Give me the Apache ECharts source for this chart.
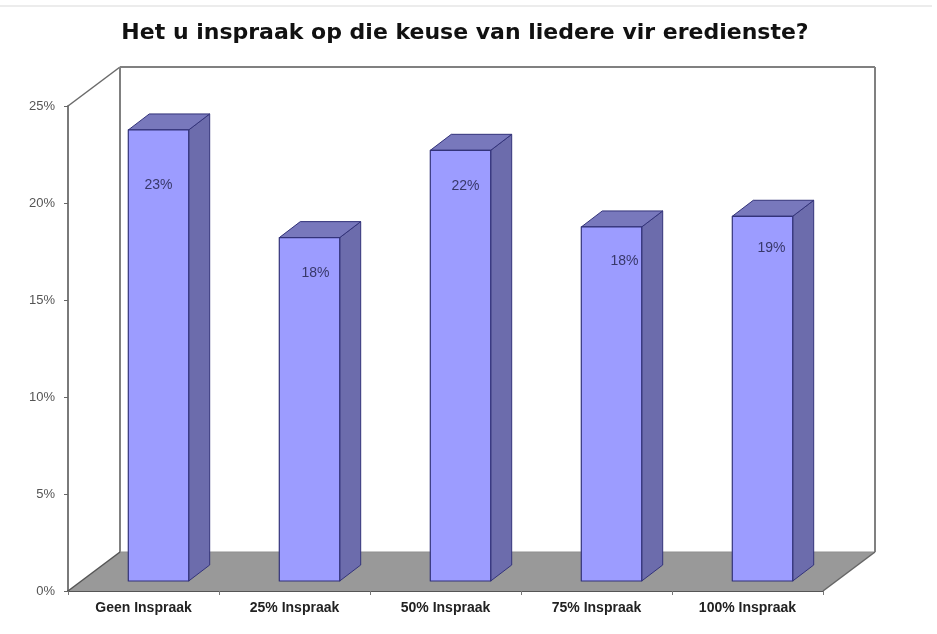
<!DOCTYPE html>
<html>
<head>
<meta charset="utf-8">
<style>html,body{margin:0;padding:0;background:#fff}#c{width:937px;height:634px}</style>
<script src="https://cdn.jsdelivr.net/npm/echarts@6/dist/echarts.min.js"></script>
</head>
<body>
<div id="c"></div>
<script>
const categories = ['Geen Inspraak', '25% Inspraak', '50% Inspraak', '75% Inspraak', '100% Inspraak'];
const values = [23.25, 17.7, 22.2, 18.25, 18.8];
const titleText = 'Het u inspraak op die keuse van liedere vir eredienste?';

// Label placement relative to each bar's front-top-centre, as in the source picture
const labelShift = [[0, 55], [6, 36], [5, 36], [13, 34], [9, 32]];

const DEPTH = [52, -39];        // wall / floor depth
const BAR_SHIFT = [15, -10];    // bar position inside the depth
const BAR_DEPTH = [21, -16];    // bar thickness

const chart = echarts.init(document.getElementById('c'));

function poly(points, fill, stroke, lw) {
  return { type: 'polygon', shape: { points }, style: { fill, stroke, lineWidth: lw, lineJoin: 'round' } };
}
function seg(x1, y1, x2, y2, stroke, lw) {
  return { type: 'line', shape: { x1, y1, x2, y2 }, style: { stroke, lineWidth: lw } };
}

function renderRoom(params, api) {
  const s = params.coordSys;
  const L = s.x, R = s.x + s.width, T = s.y, B = s.y + s.height;
  const dx = DEPTH[0], dy = DEPTH[1];
  const wall = '#808080';
  return {
    type: 'group',
    children: [
      poly([[L, B], [L + dx, B + dy], [R + dx, B + dy], [R, B]], '#999999', 'none', 0),
      seg(L, T, L + dx, T + dy, '#6a6a6a', 1.5),
      seg(L + dx, T + dy, L + dx, B + dy, wall, 2),
      seg(L + dx, T + dy, R + dx, T + dy, wall, 2),
      seg(R + dx, T + dy, R + dx, B + dy, wall, 2),
      seg(L + dx, B + dy, R + dx, B + dy, '#8f8f8f', 1),
      seg(L, B, L + dx, B + dy, '#555555', 1.5),
      seg(R, B, R + dx, B + dy, '#666666', 1.5)
    ]
  };
}

function renderBar(params, api) {
  const i = api.value(0);
  const v = api.value(1);
  const top = api.coord([i, v]);
  const base = api.coord([i, 0]);
  const w = api.size([1, 0])[0] * 0.4;
  const x0 = top[0] + BAR_SHIFT[0] - w / 2;
  const x1 = x0 + w;
  const yT = top[1] + BAR_SHIFT[1];
  const yB = base[1] + BAR_SHIFT[1];
  const ddx = BAR_DEPTH[0], ddy = BAR_DEPTH[1];
  const edge = '#33337a';
  const sh = labelShift[i];
  return {
    type: 'group',
    children: [
      poly([[x1, yT], [x1 + ddx, yT + ddy], [x1 + ddx, yB + ddy], [x1, yB]], '#6c6cac', edge, 1),
      poly([[x0, yT], [x0 + ddx, yT + ddy], [x1 + ddx, yT + ddy], [x1, yT]], '#7878bc', edge, 1),
      poly([[x0, yT], [x1, yT], [x1, yB], [x0, yB]], '#9c9cff', edge, 1.2),
      {
        type: 'text',
        style: {
          x: (x0 + x1) / 2 + sh[0], y: yT + sh[1],
          text: Math.round(v) + '%',
          fill: '#38386a', font: '14px "Liberation Sans", Arial, sans-serif',
          align: 'center', verticalAlign: 'middle'
        }
      }
    ]
  };
}

chart.setOption({
  animation: false,
  backgroundColor: '#ffffff',
  title: {
    text: titleText, left: 460, top: 17, textAlign: 'center',
    textStyle: { fontFamily: 'DejaVu Sans', fontWeight: 'bold', fontSize: 22, color: '#111111' }
  },
  graphic: [{
    type: 'line', silent: true,
    shape: { x1: 0, y1: 6, x2: 932, y2: 6 },
    style: { stroke: '#e6e6e6', lineWidth: 1.5 }
  }],
  grid: { left: 68, top: 106, width: 755, height: 485, containLabel: false },
  xAxis: {
    type: 'category', data: categories,
    axisLine: { show: true, lineStyle: { color: '#555555', width: 2 } },
    axisTick: { show: true, alignWithLabel: false, length: 4, lineStyle: { color: '#777777', width: 1 } },
    axisLabel: {
      interval: 0, margin: 10,
      fontFamily: 'Liberation Sans', fontWeight: 'bold', fontSize: 14, color: '#222222'
    },
    splitLine: { show: false }
  },
  yAxis: {
    type: 'value', min: 0, max: 25, interval: 5,
    axisLine: { show: true, lineStyle: { color: '#7a7a7a', width: 2 } },
    axisTick: { show: true, length: 4, lineStyle: { color: '#666666', width: 1 } },
    axisLabel: {
      formatter: '{value}%', margin: 13,
      fontFamily: 'Liberation Sans', fontSize: 13, color: '#555555'
    },
    splitLine: { show: false }
  },
  series: [
    { type: 'custom', silent: true, z: 1, renderItem: renderRoom, data: [0], encode: { x: 0 } },
    {
      type: 'custom', silent: true, z: 3, renderItem: renderBar, clip: false,
      data: values.map((v, i) => [i, v]), encode: { x: 0, y: 1 }
    }
  ]
});
</script>
</body>
</html>
